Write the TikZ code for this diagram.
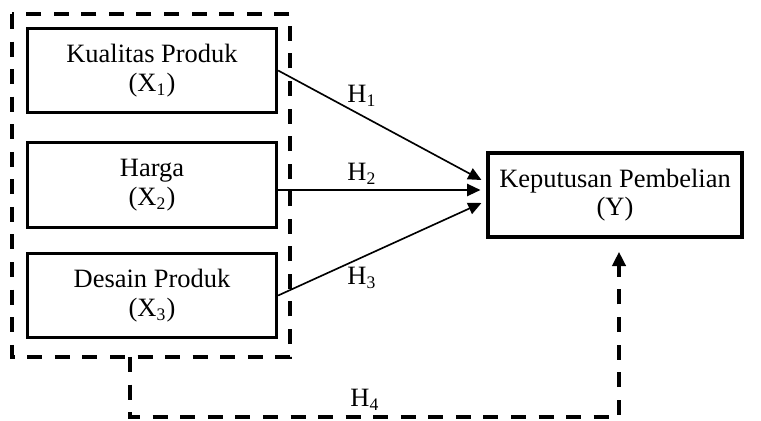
\documentclass[tikz,border=0pt]{standalone}
\usepackage{fontspec}
\setmainfont{Liberation Serif}
\usetikzlibrary{arrows.meta, positioning, calc}

\begin{document}
\begin{tikzpicture}[x=0.4535pt, y=-0.4535pt,
    varbox/.style={draw, line width=1.4pt, minimum width=113pt, minimum height=38.5pt,
      align=center, inner sep=0pt, font=\fontsize{12}{13}\selectfont},
    hline/.style={-{Triangle[length=6pt,width=5.5pt]}, line width=0.75pt},
    grpline/.style={line width=1.8pt, dash pattern=on 6.8pt off 5.7pt},
    hlabel/.style={inner sep=0pt, font=\fontsize{12}{13}\selectfont}]
    \useasboundingbox (0,0) rectangle (761,421);

    % Independent variables
    \node[varbox] (b1) at (152,70.5) {Kualitas Produk\\(X\textsubscript{1})};
    \node[varbox] (b2) at (152,185) {Harga\\(X\textsubscript{2})};
    \node[varbox] (b3) at (152,295.5) {Desain Produk\\(X\textsubscript{3})};

    % Dependent variable
    \node[varbox, minimum width=115.2pt, minimum height=38.1pt] (kp) at (615,195)
      {Keputusan Pembelian\\(Y)};

    % Dashed group around X1..X3
    \coordinate (g1) at (12,14);
    \coordinate (g2) at (290,357);
    \draw[grpline] (g1) rectangle (g2);

    % Partial hypotheses
    \draw[hline] (b1.east) -- ($(kp.west)+(-5,-15)$);
    \draw[hline] ($(b2.east)+(0,5)$) -- ($(kp.west)+(-6,-5)$);
    \draw[hline] (b3.east) -- ($(kp.west)+(-5,8)$);

    % Simultaneous hypothesis
    \coordinate (h4s) at (130,357);
    \coordinate (h4c) at (619,417);
    \draw[grpline, -{Triangle[length=6.5pt,width=6pt]}, shorten >=6]
      (h4s) |- (h4c) -- (kp.south -| h4c);

    % Labels
    \node[hlabel] (lh1) at (362,96) {H\textsubscript{1}};
    \node[hlabel] (lh2) at (362,174) {H\textsubscript{2}};
    \node[hlabel] (lh3) at (362,278) {H\textsubscript{3}};
    \node[hlabel] (lh4) at (365,400) {H\textsubscript{4}};
\end{tikzpicture}
\end{document}
